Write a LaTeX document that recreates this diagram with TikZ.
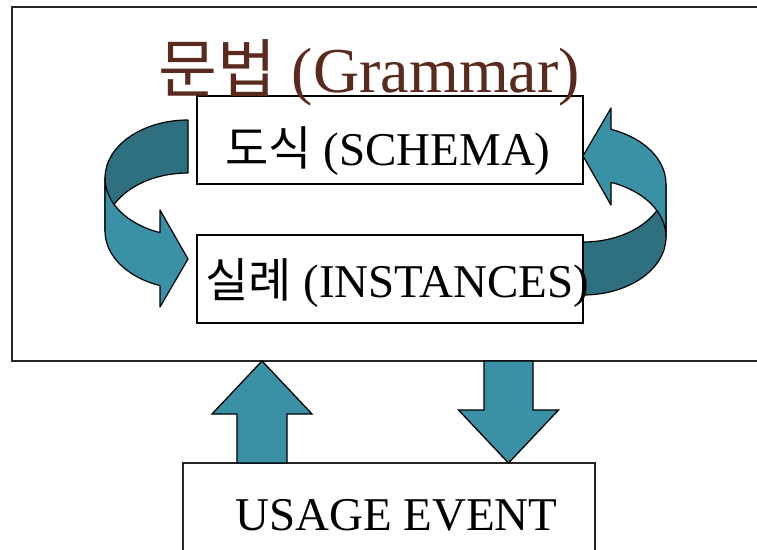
\documentclass[tikz,border=0pt]{standalone}
\usepackage{fontspec}
\setmainfont{Liberation Serif}
\newfontfamily\kr{Noto Sans CJK KR}
\usetikzlibrary{calc}
\definecolor{tealfront}{HTML}{3A91A6}
\definecolor{tealback}{HTML}{2E6F80}
\definecolor{titlebrown}{HTML}{5A2A1E}

\tikzset{
  bentline/.style={draw=black,line width=1.2pt,line join=round},
  bentarrow/.pic={
    % back half of the ribbon
    \filldraw[bentline,fill=tealback] (188,120)
      arc[start angle=270,end angle=180,x radius=83,y radius=58]
      -- (105,231) arc[start angle=180,end angle=270,x radius=83,y radius=58] -- cycle;
    % front half, ends in the head
    \filldraw[bentline,fill=tealfront] (105,178) -- (105,231)
      arc[start angle=180,end angle=109.7,x radius=83,y radius=58]
      -- (160,307) -- (188,259) -- (160,210) -- (160,232.6)
      arc[start angle=109.7,end angle=180,x radius=83,y radius=58] -- cycle;
  }
}

\begin{document}
\begin{tikzpicture}[x=1pt,y=-1pt,
  frame/.style={draw=black!85,line width=2pt,rectangle,inner sep=0pt,outer sep=0pt,anchor=north west},
  box/.style={draw,line width=1.3pt,rectangle,inner sep=0pt,outer sep=0pt,anchor=north west,
    minimum width=386pt,minimum height=88pt},
  blockarrow/.style={fill=tealfront,draw=black,line width=1.3pt,line join=miter},
  boxtext/.style={anchor=base west,inner sep=0pt,font=\fontsize{47}{50}\selectfont}]
\useasboundingbox (0,0) rectangle (757,549);
\clip (0,0) rectangle (757,549);

% the two bent arrows between schema and instances
\pic at (0,0) {bentarrow};
\pic[rotate=180] at (771,415) {bentarrow};

\node[frame,minimum width=790pt,minimum height=354pt] (grammar) at (12,7) {};
\node[box] (schema) at (197,96) {};
\node[box] (instances) at (197,235) {};
\node[frame,line width=1.6pt,minimum width=412pt,minimum height=120pt] (usage) at (183,463) {};

% up and down block arrows
\coordinate (upfoot) at ($(usage.north west)+(79,0)$);
\coordinate (uptip) at (upfoot |- grammar.south);
\draw[blockarrow] (upfoot) -- ++(-25,0) |- ($(uptip)+(-50,53)$) -- (uptip)
  -- ++(50,53) -| ($(upfoot)+(25,0)$) -- cycle;
\coordinate (downtip) at ($(usage.north west)+(325.5,0)$);
\coordinate (downtop) at (downtip |- grammar.south);
\draw[blockarrow] (downtip) -- ++(-50,-53) -| ($(downtop)+(-24.5,0)$)
  -- ++(49,0) |- ($(downtip)+(50,-53)$) -- cycle;

\node[anchor=base west,inner sep=0pt,text=titlebrown,font=\fontsize{64}{68}\selectfont]
  (title) at (158,92) {{\kr 문법} (Grammar)};
\node[boxtext] (schematext) at (225,165) {{\kr 도식} (SCHEMA)};
\node[boxtext] (instancestext) at (205,297) {{\kr 실례} (INSTANCES)};
\node[boxtext] (usagetext) at (235,530) {USAGE EVENT};
\end{tikzpicture}
\end{document}
